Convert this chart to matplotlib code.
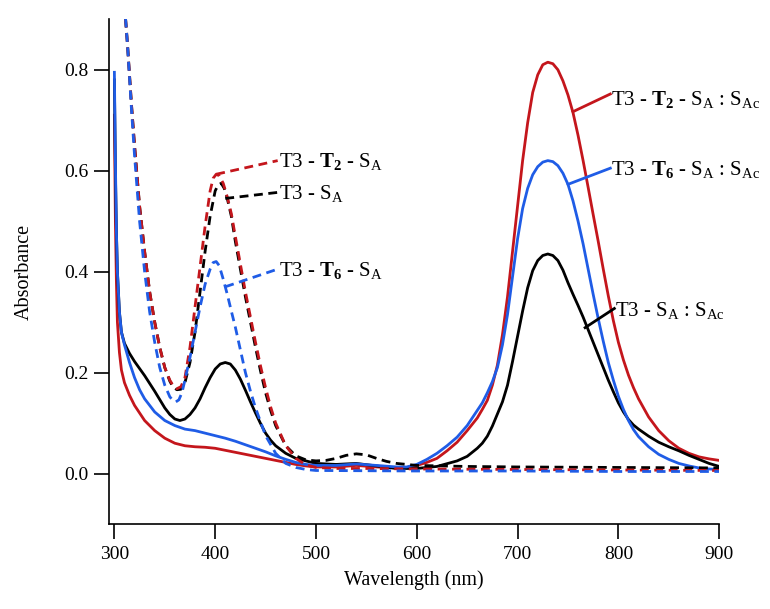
import matplotlib as mpl
mpl.use("Agg")
import matplotlib.pyplot as plt

# serif look like the original (Times)
mpl.rcParams['font.family'] = 'Liberation Serif'
mpl.rcParams['mathtext.fontset'] = 'custom'
mpl.rcParams['mathtext.rm'] = 'Liberation Serif'
mpl.rcParams['mathtext.bf'] = 'Liberation Serif:bold'
mpl.rcParams['mathtext.it'] = 'Liberation Serif:italic'

RED = '#c4161c'
BLUE = '#1f5ce6'
BLACK = '#000000'

# solid spectra (wavelength nm, absorbance)
wl_black = [300, 301, 302, 303, 305, 307, 310, 315, 320, 330, 340, 350, 355, 360, 365, 370, 375, 380,
            385, 390, 395, 400, 405, 410, 415, 420, 425, 430, 435, 440, 445, 450, 455, 460, 470, 480,
            490, 500, 520, 540, 560, 580, 600, 620, 640, 650, 660, 665, 670, 675, 680, 685, 690, 695,
            700, 705, 710, 715, 720, 725, 730, 735, 740, 745, 750, 755, 760, 765, 770, 775, 780, 785,
            790, 795, 800, 805, 810, 815, 820, 830, 840, 850, 860, 870, 880, 890, 900]
abs_black = [0.78, 0.60, 0.48, 0.40, 0.32, 0.28, 0.258, 0.238, 0.222, 0.194, 0.163, 0.13, 0.117,
             0.108, 0.105, 0.108, 0.117, 0.13, 0.148, 0.17, 0.19, 0.207, 0.217, 0.22, 0.217, 0.205,
             0.187, 0.165, 0.142, 0.12, 0.099, 0.08, 0.066, 0.055, 0.04, 0.03, 0.025, 0.02, 0.018,
             0.02, 0.015, 0.01, 0.01, 0.014, 0.025, 0.034, 0.05, 0.06, 0.074, 0.094, 0.118, 0.142,
             0.175, 0.222, 0.272, 0.322, 0.368, 0.402, 0.422, 0.432, 0.435, 0.432, 0.422, 0.403,
             0.378, 0.355, 0.333, 0.31, 0.285, 0.26, 0.235, 0.21, 0.185, 0.162, 0.14, 0.122, 0.107,
             0.096, 0.088, 0.074, 0.062, 0.053, 0.045, 0.036, 0.028, 0.02, 0.014]

wl_blue = [300, 301, 302, 303, 305, 307, 310, 315, 320, 325, 330, 340, 350, 360, 370, 380, 390, 400,
           410, 420, 430, 440, 450, 460, 470, 480, 490, 500, 520, 540, 560, 580, 590, 600, 610, 620,
           630, 640, 650, 660, 665, 670, 675, 680, 685, 690, 695, 700, 705, 710, 715, 720, 725, 730,
           735, 740, 745, 750, 755, 760, 765, 770, 775, 780, 785, 790, 795, 800, 805, 810, 815, 820,
           830, 840, 850, 860, 870, 880, 890, 900]
abs_blue = [0.795, 0.62, 0.48, 0.40, 0.32, 0.28, 0.255, 0.22, 0.19, 0.166, 0.148, 0.122, 0.105, 0.095,
            0.088, 0.085, 0.08, 0.075, 0.07, 0.064, 0.057, 0.05, 0.043, 0.035, 0.028, 0.022, 0.018,
            0.016, 0.016, 0.019, 0.016, 0.013, 0.013, 0.018, 0.028, 0.04, 0.055, 0.072, 0.095, 0.125,
            0.14, 0.16, 0.182, 0.21, 0.255, 0.315, 0.39, 0.465, 0.525, 0.565, 0.592, 0.608, 0.617,
            0.62, 0.618, 0.61, 0.595, 0.573, 0.54, 0.50, 0.455, 0.405, 0.355, 0.307, 0.262, 0.22,
            0.185, 0.153, 0.127, 0.105, 0.087, 0.073, 0.053, 0.038, 0.028, 0.02, 0.015, 0.011, 0.009,
            0.008]

wl_red = [300, 301, 302, 303, 305, 307, 310, 315, 320, 330, 340, 350, 360, 370, 380, 390, 400, 410,
          420, 430, 440, 450, 460, 470, 480, 490, 500, 520, 540, 560, 580, 590, 600, 610, 620, 630,
          640, 650, 660, 665, 670, 675, 680, 685, 690, 695, 700, 705, 710, 715, 720, 725, 730, 735,
          740, 745, 750, 755, 760, 765, 770, 775, 780, 785, 790, 795, 800, 805, 810, 815, 820, 830,
          840, 850, 860, 870, 880, 890, 900]
abs_red = [0.71, 0.50, 0.38, 0.30, 0.24, 0.205, 0.18, 0.155, 0.135, 0.105, 0.085, 0.07, 0.06, 0.055,
           0.053, 0.052, 0.05, 0.046, 0.042, 0.038, 0.034, 0.03, 0.026, 0.022, 0.018, 0.015, 0.013,
           0.013, 0.016, 0.013, 0.011, 0.012, 0.016, 0.022, 0.03, 0.045, 0.062, 0.085, 0.11, 0.127,
           0.145, 0.175, 0.215, 0.275, 0.35, 0.44, 0.53, 0.62, 0.695, 0.755, 0.79, 0.81, 0.815,
           0.812, 0.80, 0.778, 0.75, 0.715, 0.67, 0.62, 0.567, 0.513, 0.46, 0.405, 0.352, 0.303,
           0.26, 0.225, 0.195, 0.17, 0.148, 0.112, 0.085, 0.065, 0.05, 0.04, 0.033, 0.029, 0.026]

# dashed spectra
wl_red_d = [310, 313, 317, 320, 325, 330, 335, 340, 345, 350, 355, 358, 362, 366, 370, 375, 380, 385,
            390, 395, 398, 401, 404, 408, 412, 416, 420, 425, 430, 435, 440, 445, 450, 455, 460, 470,
            480, 490, 500, 520, 550, 600, 700, 800, 900]
abs_red_d = [0.93, 0.85, 0.73, 0.65, 0.53, 0.44, 0.36, 0.30, 0.25, 0.21, 0.185, 0.175, 0.168, 0.172,
             0.19, 0.25, 0.33, 0.41, 0.49, 0.56, 0.585, 0.593, 0.59, 0.575, 0.548, 0.515, 0.47, 0.415,
             0.36, 0.31, 0.26, 0.213, 0.17, 0.132, 0.10, 0.055, 0.03, 0.017, 0.012, 0.01, 0.01,
             0.009, 0.008, 0.007, 0.006]

wl_black_d = [310, 313, 317, 320, 325, 330, 335, 340, 345, 350, 355, 358, 362, 366, 370, 375, 380, 385,
              390, 395, 400, 403, 406, 409, 412, 416, 420, 425, 430, 435, 440, 445, 450, 455, 460, 470,
              480, 490, 500, 510, 520, 530, 540, 550, 560, 570, 580, 600, 650, 700, 800, 900]
abs_black_d = [0.93, 0.85, 0.73, 0.65, 0.53, 0.44, 0.36, 0.30, 0.25, 0.21, 0.183, 0.172, 0.166, 0.167,
               0.18, 0.22, 0.28, 0.36, 0.44, 0.51, 0.56, 0.572, 0.575, 0.565, 0.545, 0.51, 0.46,
               0.405, 0.35, 0.30, 0.25, 0.203, 0.16, 0.125, 0.095, 0.055, 0.035, 0.027, 0.025, 0.026,
               0.03, 0.036, 0.039, 0.037, 0.03, 0.024, 0.02, 0.016, 0.014, 0.013, 0.012, 0.011]

wl_blue_d = [310, 313, 317, 320, 325, 330, 335, 340, 345, 350, 355, 358, 361, 364, 367, 370, 375, 380,
             385, 390, 395, 398, 401, 404, 408, 412, 416, 420, 425, 430, 435, 440, 450, 460, 470, 480,
             490, 500, 600, 700, 800, 900]
abs_blue_d = [0.93, 0.85, 0.72, 0.63, 0.50, 0.40, 0.32, 0.26, 0.21, 0.175, 0.152, 0.145, 0.142, 0.146,
              0.16, 0.185, 0.23, 0.28, 0.33, 0.375, 0.405, 0.418, 0.42, 0.412, 0.385, 0.355, 0.322,
              0.29, 0.245, 0.20, 0.163, 0.13, 0.075, 0.04, 0.02, 0.012, 0.008, 0.006, 0.005, 0.005,
              0.004, 0.004]

fig = plt.figure(figsize=(7.7, 6.09), dpi=100)
ax = fig.add_axes([0.142, 0.1396, 0.792, 0.8287])

lw = 2.0
dash = (0, (3.2, 2.0))
ax.plot(wl_red, abs_red, color=RED, lw=lw)
ax.plot(wl_black, abs_black, color=BLACK, lw=lw)
ax.plot(wl_blue, abs_blue, color=BLUE, lw=lw)
ax.plot(wl_black_d, abs_black_d, color=BLACK, lw=lw, linestyle=dash)
ax.plot(wl_red_d, abs_red_d, color=RED, lw=lw, linestyle=dash)
ax.plot(wl_blue_d, abs_blue_d, color=BLUE, lw=lw, linestyle=dash)

# labels with leader lines
fs = 15
ax.plot([401, 462], [0.593, 0.62], color=RED, lw=lw, linestyle=dash)
ax.text(463, 0.608, r'T3 - $\mathbf{T_2}$ - S$_\mathrm{A}$', fontsize=fs, va='baseline')
ax.plot([410, 462], [0.545, 0.557], color=BLACK, lw=lw, linestyle=dash)
ax.text(463, 0.543, r'T3 - S$_\mathrm{A}$', fontsize=fs, va='baseline')
ax.plot([410, 462], [0.37, 0.405], color=BLUE, lw=lw, linestyle=dash)
ax.text(463, 0.391, r'T3 - $\mathbf{T_6}$ - S$_\mathrm{A}$', fontsize=fs, va='baseline')

ax.plot([755, 792], [0.717, 0.752], color=RED, lw=lw)
ax.text(793, 0.73, r'T3 - $\mathbf{T_2}$ - S$_\mathrm{A}$ : S$_\mathrm{Ac}$', fontsize=fs, va='baseline')
ax.plot([750, 792], [0.573, 0.605], color=BLUE, lw=lw)
ax.text(793, 0.591, r'T3 - $\mathbf{T_6}$ - S$_\mathrm{A}$ : S$_\mathrm{Ac}$', fontsize=fs, va='baseline')
ax.plot([767, 796], [0.289, 0.327], color=BLACK, lw=lw)
ax.text(797, 0.313, r'T3 - S$_\mathrm{A}$ : S$_\mathrm{Ac}$', fontsize=fs, va='baseline')

ax.set_xlim(295, 900)
ax.set_ylim(-0.1, 0.9)
ax.set_xticks([300, 400, 500, 600, 700, 800, 900])
ax.set_yticks([0.0, 0.2, 0.4, 0.6, 0.8])
ax.set_yticklabels(['0.0', '0.2', '0.4', '0.6', '0.8'])
ax.spines['top'].set_visible(False)
ax.spines['right'].set_visible(False)
for s in ['left', 'bottom']:
    ax.spines[s].set_linewidth(1.2)
ax.tick_params(direction='out', length=11, width=1.2, labelsize=14)
ax.tick_params(axis='y', pad=4)
ax.tick_params(axis='x', pad=5)
ax.set_xlabel('Wavelength (nm)', fontsize=14.5, labelpad=5)
ax.set_ylabel('Absorbance', fontsize=14.5, labelpad=22)

fig.savefig('out.png', dpi=100)
